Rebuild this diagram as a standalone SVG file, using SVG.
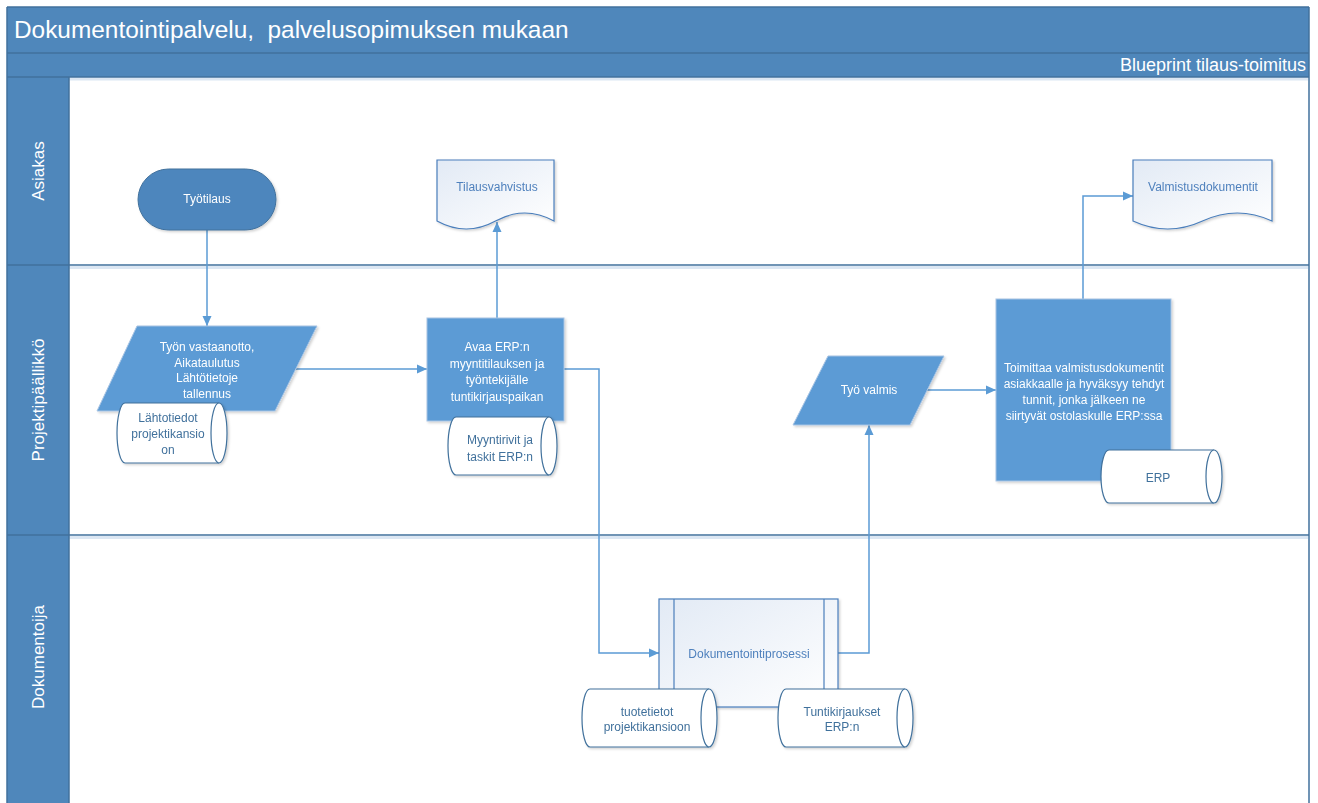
<svg xmlns="http://www.w3.org/2000/svg" width="1318" height="803" viewBox="0 0 1318 803">
  <style>
    .band { fill: #4F87BB; }
    .rule { stroke: #41719C; stroke-width: 1.5; fill: none; }
    .glow { stroke: #DCE7F3; stroke-width: 3; fill: none; }
    .head { font-family: "Liberation Sans", Arial, sans-serif; fill: #FFFFFF; }
    .lane { font-family: "Liberation Sans", Arial, sans-serif; font-size: 17px; fill: #FFFFFF; text-anchor: middle; }
    .solid { fill: #5B9BD5; stroke: #A7C3E3; stroke-width: 1; }
    .term { fill: #4E86BD; stroke: #41719C; stroke-width: 1; }
    .doc { fill: url(#paper); stroke: #4A7EBB; stroke-width: 1.2; }
    .store { fill: #FFFFFF; stroke: #41719C; stroke-width: 1.2; }
    .t { font-family: "Liberation Sans", Arial, sans-serif; font-size: 12px; text-anchor: middle; }
    .tw { fill: #FFFFFF; }
    .tb { fill: #4F81BD; }
    .ts { fill: #41719C; }
    .wire { stroke: #5B9BD5; stroke-width: 1.5; fill: none; }
  </style>
  <defs>
    <linearGradient id="paper" x1="0" y1="0" x2="1" y2="1">
      <stop offset="0" stop-color="#E2EAF5"/>
      <stop offset="1" stop-color="#FFFFFF"/>
    </linearGradient>
    <filter id="shade" x="-10%" y="-10%" width="125%" height="125%">
      <feDropShadow dx="1.5" dy="1.5" stdDeviation="1.2" flood-color="#000000" flood-opacity="0.18"/>
    </filter>
    <marker id="arr" viewBox="0 0 10 10" refX="10" refY="5" markerWidth="10" markerHeight="10" markerUnits="userSpaceOnUse" orient="auto">
      <path d="M0,0.5 L10,5 L0,9.5 Z" fill="#5B9BD5"/>
    </marker>
  </defs>

  <rect width="1318" height="803" fill="#FFFFFF"/>

  <!-- swimlane frame -->
  <g id="pool">
    <rect class="band" x="7" y="7" width="1302" height="46"/>
    <rect class="band" x="7" y="53" width="1302" height="24"/>
    <rect class="band" x="7" y="77" width="62" height="726"/>
    <line class="rule" x1="7" y1="53" x2="1309" y2="53"/>
    <line class="glow" x1="69" y1="79" x2="1308" y2="79"/>
    <line class="rule" x1="7" y1="77" x2="1309" y2="77"/>
    <line class="glow" x1="69" y1="267.5" x2="1308" y2="267.5"/>
    <line class="rule" x1="7" y1="265" x2="1309" y2="265"/>
    <line class="glow" x1="69" y1="537.5" x2="1308" y2="537.5"/>
    <line class="rule" x1="7" y1="535" x2="1309" y2="535"/>
    <line class="rule" x1="69" y1="77" x2="69" y2="803"/>
    <line class="rule" x1="1309" y1="7" x2="1309" y2="803"/>
    <line class="rule" x1="7" y1="7" x2="7" y2="803"/>
    <line class="rule" x1="7" y1="7" x2="1309" y2="7"/>
    <text class="head" x="14" y="38" font-size="24.4" style="white-space:pre">Dokumentointipalvelu,  palvelusopimuksen mukaan</text>
    <text class="head" x="1306" y="71" font-size="18" text-anchor="end">Blueprint tilaus-toimitus</text>
    <text class="lane" transform="translate(44 171) rotate(-90)">Asiakas</text>
    <text class="lane" transform="translate(44 400) rotate(-90)">Projektipäällikkö</text>
    <text class="lane" transform="translate(44 657) rotate(-90)">Dokumentoija</text>
  </g>

  <!-- connectors -->
  <g id="connectors">
    <path class="wire" d="M207,230 V326" marker-end="url(#arr)"/>
    <path class="wire" d="M296,369 H427" marker-end="url(#arr)"/>
    <path class="wire" d="M497,318 V222" marker-end="url(#arr)"/>
    <path class="wire" d="M564,369 H599 V653 H659" marker-end="url(#arr)"/>
    <path class="wire" d="M838,653 H869 V425" marker-end="url(#arr)"/>
    <path class="wire" d="M927,390 H996" marker-end="url(#arr)"/>
    <path class="wire" d="M1083,299 V196 H1133" marker-end="url(#arr)"/>
  </g>

  <!-- Asiakas lane -->
  <g id="tyotilaus" filter="url(#shade)">
    <rect class="term" x="138" y="169" width="138" height="61" rx="30.5"/>
    <text class="t tw" x="207" y="203">Työtilaus</text>
  </g>
  <g id="tilausvahvistus" filter="url(#shade)">
    <path class="doc" d="M437,160 H554 V221 Q524.75,205 495.5,221 Q466.25,237 437,221 Z"/>
    <text class="t tb" x="497" y="191">Tilausvahvistus</text>
  </g>
  <g id="valmistusdokumentit" filter="url(#shade)">
    <path class="doc" d="M1133,160 H1272 V221 Q1237.25,205 1202.5,221 Q1167.75,237 1133,221 Z"/>
    <text class="t tb" x="1203" y="191">Valmistusdokumentit</text>
  </g>

  <!-- Projektipäällikkö lane -->
  <g id="vastaanotto" filter="url(#shade)">
    <polygon class="solid" points="137,326 317,326 275,411 97,411"/>
    <text class="t tw" x="207" y="351">Työn vastaanotto,</text>
    <text class="t tw" x="207" y="366.5">Aikataulutus</text>
    <text class="t tw" x="207" y="382">Lähtötietoje</text>
    <text class="t tw" x="207" y="397.5">tallennus</text>
  </g>
  <g id="lahtotiedot" filter="url(#shade)">
    <path class="store" d="M125,403 H219 A8 30 0 0 1 219,463 H125 A8 30 0 0 1 125,403 Z"/>
    <path class="store" d="M219,403 A8 30 0 0 0 219,463"/>
    <text class="t ts" x="168" y="422">Lähtotiedot</text>
    <text class="t ts" x="168" y="438">projektikansio</text>
    <text class="t ts" x="168" y="454">on</text>
  </g>
  <g id="avaa-erp" filter="url(#shade)">
    <rect class="solid" x="427" y="318" width="137" height="103"/>
    <text class="t tw" x="497" y="351">Avaa ERP:n</text>
    <text class="t tw" x="497" y="367.5">myyntitilauksen ja</text>
    <text class="t tw" x="497" y="384">työntekijälle</text>
    <text class="t tw" x="497" y="400.5">tuntikirjauspaikan</text>
  </g>
  <g id="myyntirivit" filter="url(#shade)">
    <path class="store" d="M456,417 H549 A8 29 0 0 1 549,475 H456 A8 29 0 0 1 456,417 Z"/>
    <path class="store" d="M549,417 A8 29 0 0 0 549,475"/>
    <text class="t ts" x="500" y="444">Myyntirivit ja</text>
    <text class="t ts" x="500" y="461">taskit ERP:n</text>
  </g>
  <g id="tyo-valmis" filter="url(#shade)">
    <polygon class="solid" points="828,356 944,356 910,425 793,425"/>
    <text class="t tw" x="869" y="394">Työ valmis</text>
  </g>
  <g id="toimittaa" filter="url(#shade)">
    <rect class="solid" x="996" y="299" width="175" height="182"/>
    <text class="t tw" x="1084" y="372">Toimittaa valmistusdokumentit</text>
    <text class="t tw" x="1084" y="388">asiakkaalle ja hyväksyy tehdyt</text>
    <text class="t tw" x="1084" y="404">tunnit, jonka jälkeen ne</text>
    <text class="t tw" x="1084" y="420">siirtyvät ostolaskulle ERP:ssa</text>
  </g>
  <g id="erp" filter="url(#shade)">
    <path class="store" d="M1109,450 H1214 A8 26.5 0 0 1 1214,503 H1109 A8 26.5 0 0 1 1109,450 Z"/>
    <path class="store" d="M1214,450 A8 26.5 0 0 0 1214,503"/>
    <text class="t ts" x="1158" y="482">ERP</text>
  </g>

  <!-- Dokumentoija lane -->
  <g id="dokumentointiprosessi" filter="url(#shade)">
    <rect class="doc" x="659" y="599" width="179" height="108"/>
    <line class="doc" x1="674" y1="599" x2="674" y2="707"/>
    <line class="doc" x1="824" y1="599" x2="824" y2="707"/>
    <text class="t tb" x="749" y="658">Dokumentointiprosessi</text>
  </g>
  <g id="tuotetietot" filter="url(#shade)">
    <path class="store" d="M590,689 H709 A8 29 0 0 1 709,747 H590 A8 29 0 0 1 590,689 Z"/>
    <path class="store" d="M709,689 A8 29 0 0 0 709,747"/>
    <text class="t ts" x="647" y="716">tuotetietot</text>
    <text class="t ts" x="647" y="731">projektikansioon</text>
  </g>
  <g id="tuntikirjaukset" filter="url(#shade)">
    <path class="store" d="M786,689 H905 A8 29 0 0 1 905,747 H786 A8 29 0 0 1 786,689 Z"/>
    <path class="store" d="M905,689 A8 29 0 0 0 905,747"/>
    <text class="t ts" x="842" y="716">Tuntikirjaukset</text>
    <text class="t ts" x="842" y="731">ERP:n</text>
  </g>
</svg>
